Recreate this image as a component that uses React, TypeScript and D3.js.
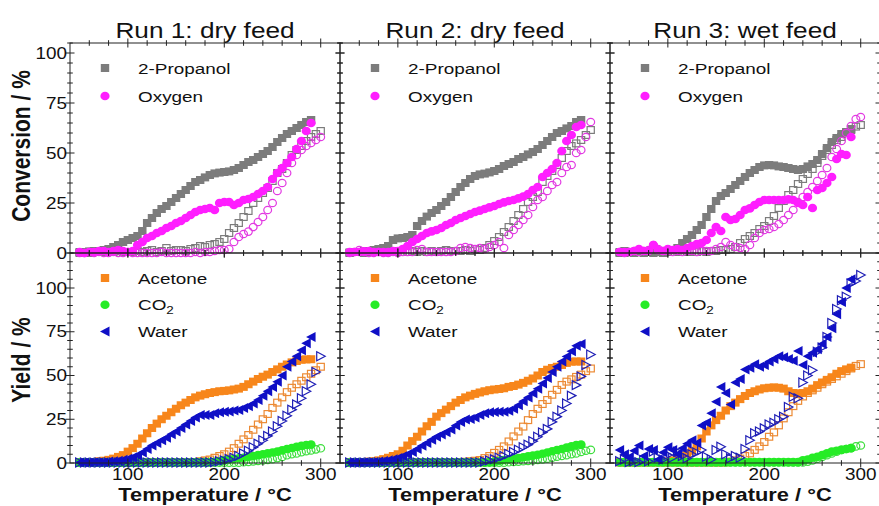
import React from 'react';
import * as d3 from 'd3';

// ---------- temperatures (°C) ----------
const T_UP = [50, 55, 60, 65, 70, 75, 80, 85, 90, 95,
  100, 105, 110, 115, 120, 125, 130, 135, 140, 145,
  150, 155, 160, 165, 170, 175, 180, 185, 190, 195,
  200, 205, 210, 215, 220, 225, 230, 235, 240, 245,
  250, 255, 260, 265, 270, 275, 280, 285, 290];
const T_DOWN = [50, 55, 60, 65, 70, 75, 80, 85, 90, 95,
  100, 105, 110, 115, 120, 125, 130, 135, 140, 145,
  150, 155, 160, 165, 170, 175, 180, 185, 190, 195,
  200, 205, 210, 215, 220, 225, 230, 235, 240, 245,
  250, 255, 260, 265, 270, 275, 280, 285, 290, 295,
  300];

// ---------- Run 1: conversion ----------
const r1PropanolUp = [0.5, 0.5, 0.8, 1, 1, 1.5, 2, 3, 4, 5.5,
  6.5, 7.5, 8.5, 11, 15, 17.5, 20, 22, 23.5, 25.5,
  27.5, 29.5, 31.5, 33.5, 35.5, 36.5, 37.8, 39, 39.8, 40.2,
  40.5, 40.8, 41.5, 42.5, 44, 45.5, 46.5, 48, 49.5, 51,
  53, 55.5, 57.5, 59.5, 61, 62.5, 64, 65.5, 66.5];
const r1PropanolDown = [0, 0.5, 0, 1, 1, 0.5, 1, 0.5, 1, 0.5,
  0.5, 0.5, 1, 0.5, 1, 1.5, 0.5, 1, 2.5, 1,
  1.5, 1.5, 1, 2, 2.5, 3.5, 3, 4, 4.5, 5.5,
  7, 10, 12.5, 15, 18, 21, 25, 27.5, 30, 32.5,
  36, 40, 42, 45, 49, 51.5, 53.5, 56, 58, 59.5,
  61];
const r1OxygenUp = [0.5, 0, 0.5, 0.5, 1, 1, 0.5, 1, 1.5, 1,
  0.5, 1, 4, 5.5, 7.5, 8.5, 10, 11, 12.5, 13.5,
  15, 16, 17.5, 19, 20.5, 21.5, 22, 22.5, 21.5, 25,
  25.5, 25.5, 24, 25, 26.5, 27, 28, 29.5, 31, 33,
  37, 40, 42.5, 45, 48, 52, 56, 61, 65];
const r1OxygenDown = [0, 0, 0.5, 0, 0.5, 0, 0, 0.5, 0, 0,
  0.5, 0, 0, 0, 0, 0, 0, 0.5, 0, 0,
  0, 0, 0, 0, 0.5, 0, 0.5, 0.5, 1, 1.5,
  1.5, 2, 5.5, 8, 9.5, 10.7, 13, 15.5, 18, 21.5,
  25, 31, 35, 40, 45, 49, 51.5, 53.5, 55, 56.5,
  58];

// ---------- Run 2: conversion ----------
const r2PropanolUp = [0.3, 0.5, 0.5, 1, 1, 1.5, 2, 2.5, 3.5, 6.5,
  7.3, 7.5, 8, 9, 13.5, 16, 18.2, 20, 21.5, 23.5,
  25.5, 28, 30.5, 33, 35, 37, 38.5, 39.3, 39.7, 40.3,
  41, 42, 43.5, 44.5, 45.5, 47, 48, 49.3, 50.5, 52,
  54, 56, 58, 60, 61, 62.3, 63.5, 65.5, 66.5];
const r2PropanolDown = [0, 0.5, 0.5, 0, 0.5, 0.5, 0.5, 0.5, 0.5, 1,
  0.5, 0.5, 0.5, 1, 0.5, 1, 0.5, 1, 0.5, 1,
  1.5, 1, 1, 1, 1.5, 1, 2, 1.5, 2.5, 4,
  6, 8, 10.5, 13, 16, 19, 22, 25.5, 28, 30.5,
  35.5, 38.5, 41, 44, 47.5, 51, 53.5, 54.8, 56.5, 59,
  61.5];
const r2OxygenUp = [0.5, 0.5, 0.5, 0.8, 1, 0.5, 0.5, 0.5, 0.5, 1,
  1, 2, 3.5, 5.5, 7, 8.5, 10, 10.8, 11.5, 12.5,
  14, 15, 16.5, 17.5, 18.5, 19.5, 20.5, 21.2, 22, 22.8,
  23.5, 24.5, 25.3, 26, 26.5, 27.3, 28.2, 29.5, 31.5, 33,
  38, 40, 42, 45, 51, 56, 59, 63, 64];
const r2OxygenDown = [0, 0.5, 1.5, 0.5, 0, 0, 0.5, 0, 0, 0.5,
  0, 0.5, 0.5, 0.5, 1.5, 2, 0.5, 0.5, 0.5, 0.5,
  0.5, 0.5, 1, 2.5, 3, 2.5, 2, 2.5, 2, 3,
  4, 5.5, 2.5, 9, 11.5, 14, 16.5, 19, 23, 26.5,
  28, 31, 34, 35.5, 40, 43, 44, 50, 51.5, 58,
  65.5];

// ---------- Run 3: conversion ----------
const r3PropanolUp = [0.5, 1, 0.5, 0.5, 0.5, 0.5, 0.5, 0.5, 0.5, 0.5,
  1, 1.5, 2.5, 5, 7, 9, 11.5, 14, 18, 22,
  26, 28.5, 30, 32, 34, 36, 38, 40, 41.5, 43,
  43.8, 44, 43.8, 43.3, 43, 42.5, 42, 41.5, 42, 43.3,
  44.5, 46.5, 49.5, 52.5, 55.5, 57.5, 59.5, 60.5, 62];
const r3PropanolDown = [0, 0, 0.5, 0, 0.5, 0, 0.5, 0, 0.5, 0,
  0.5, 0.5, 0.5, 0.5, 0.5, 0.5, 0.5, 1, 0.5, 1,
  1, 1.5, 1.5, 2, 3, 5, 7, 8.5, 10, 12,
  13.5, 16, 18.5, 22.5, 26, 29, 31.5, 34.5, 37, 39.5,
  42, 45, 48.5, 51.5, 54, 56.5, 58, 60, 61.5, 63.2,
  64];
const r3OxygenUp = [0.5, 0.5, 0.5, 1, 2, 1, 1, 4, 1.5, 1,
  2, 1.5, 2, 1.5, 2.5, 3.5, 4.5, 5, 6.5, 10,
  13, 11, 18, 16.5, 17, 19, 21.5, 22.3, 24, 25.5,
  26.5, 26.5, 26.5, 26.5, 26.5, 26.8, 26.5, 25, 24, 28,
  22.5, 31.5, 32.5, 35, 38, 47, 49.5, 49, 58];
const r3OxygenDown = [0.5, 0, 0.5, 1, 0.5, 1, 1.5, 4, 2, 1,
  1, 0.5, 1, 0.5, 1, 1, 0.5, 1, 1, 1,
  2, 3, 5.5, 4, 3, 2.5, 2, 4, 7.5, 10,
  11.5, 12, 13, 14.5, 16.5, 19, 21.5, 25.5, 28, 30.5,
  33, 36, 39, 42.5, 48, 52, 56, 60, 63.5, 67,
  68];

// ---------- Run 1: yield ----------
const r1AcetoneUp = [0.3, 0.3, 0.5, 0.5, 1, 1.3, 1.8, 2.5, 3.5, 4.5,
  6.5, 8.5, 11, 14, 17, 20, 22.5, 25, 27, 29,
  31, 33, 34.5, 36, 37.5, 38.5, 39.3, 40, 40.5, 41,
  41.2, 41.5, 42, 42.5, 43.5, 45, 46.5, 48, 49.3, 50.5,
  52, 53.5, 55, 56.3, 57.5, 58.3, 59, 59.2, 59.3];
const r1AcetoneDown = [0.2, 0.2, 0.3, 0.2, 0.3, 0.2, 0.3, 0.3, 0.2, 0.3,
  0.3, 0.3, 0.2, 0.3, 0.3, 0.3, 0.3, 0.3, 0.3, 0.3,
  0.3, 0.3, 0.3, 0.4, 0.5, 1, 1.5, 2, 3, 4,
  5, 6.5, 8.5, 11, 13.5, 16, 19, 22, 25, 28,
  31.5, 34.5, 37.5, 40.5, 43, 45, 47, 49, 51, 53,
  55];
const r1CO2Up = [0.2, 0.2, 0.2, 0.2, 0.2, 0.2, 0.2, 0.2, 0.2, 0.2,
  0.2, 0.2, 0.2, 0.2, 0.2, 0.3, 0.3, 0.3, 0.3, 0.3,
  0.3, 0.3, 0.3, 0.3, 0.4, 0.4, 0.5, 0.5, 0.7, 1,
  1.5, 2, 2.3, 2.7, 3, 3.5, 4, 4.5, 5, 5.5,
  6, 6.5, 7.2, 8, 8.6, 9.2, 9.8, 10.3, 10.5];
const r1CO2Down = [0.2, 0.2, 0.2, 0.2, 0.2, 0.2, 0.2, 0.2, 0.2, 0.2,
  0.2, 0.2, 0.2, 0.2, 0.2, 0.2, 0.2, 0.2, 0.2, 0.2,
  0.2, 0.2, 0.2, 0.2, 0.2, 0.2, 0.2, 0.2, 0.2, 0.2,
  0.2, 0.2, 0.2, 0.2, 0.4, 0.6, 0.9, 1.2, 1.5, 1.8,
  2.2, 2.8, 3.5, 4.4, 5, 5.5, 6.2, 6.7, 7.2, 7.8,
  8.4];
const r1WaterUp = [0.3, 0.3, 0.3, 0.5, 0.5, 0.5, 0.8, 1, 1.3, 1.8,
  2.5, 3.3, 4.5, 6, 8, 10, 11.5, 13, 14.5, 16.5,
  18, 20, 22, 24, 26, 27.5, 27.5, 27.5, 28.5, 29,
  29.3, 29.5, 30, 30.3, 31.5, 32.5, 34, 36, 38.5, 41,
  43.5, 46.5, 50, 55, 58, 61, 64.5, 68.5, 72];
const r1WaterDown = [0.3, 0.3, 0.3, 0.3, 0.3, 0.3, 0.3, 0.3, 0.3, 0.3,
  0.3, 0.3, 0.3, 0.3, 0.3, 0.3, 0.3, 0.3, 0.3, 0.3,
  0.3, 0.3, 0.3, 0.3, 0.3, 0.3, 0.3, 0.3, 0.5, 1,
  1.5, 2.3, 3, 4, 5.5, 7, 9, 11, 13, 15.5,
  18, 21, 24, 27, 30.5, 33.5, 37, 41, 45, 52,
  61];

// ---------- Run 2: yield ----------
const r2AcetoneUp = [0.3, 0.3, 0.5, 0.5, 0.8, 1, 1.5, 2.2, 3, 4,
  5, 7, 10, 12.5, 15, 18, 21, 23.5, 26.5, 28.5,
  30.5, 32.5, 34.5, 36, 37.5, 38.5, 39.5, 40.3, 41, 41.6,
  42, 42.3, 42.7, 43.5, 44, 44.8, 45.8, 47, 48.3, 50,
  52, 53.3, 54.3, 55, 56, 57.2, 57.9, 58, 58];
const r2AcetoneDown = [0.3, 0.3, 0.3, 0.3, 0.3, 0.3, 0.3, 0.3, 0.3, 0.3,
  0.3, 0.3, 0.3, 0.3, 0.3, 0.3, 0.3, 0.3, 0.3, 0.3,
  0.3, 0.3, 0.3, 0.5, 0.7, 1, 1.3, 1.7, 2.8, 4,
  5.8, 7.5, 9.5, 12.3, 15.2, 18, 20.8, 24.5, 28, 31,
  33.7, 36, 39, 41.8, 44.6, 46.5, 47.8, 49.2, 50.5, 52.5,
  54];
const r2CO2Up = [0.2, 0.2, 0.2, 0.2, 0.2, 0.2, 0.2, 0.2, 0.2, 0.2,
  0.2, 0.2, 0.2, 0.2, 0.2, 0.2, 0.2, 0.2, 0.2, 0.2,
  0.2, 0.2, 0.3, 0.3, 0.3, 0.3, 0.3, 0.3, 0.3, 0.5,
  0.8, 1.2, 1.7, 2.1, 2.5, 2.8, 3.3, 3.8, 4.2, 4.7,
  5.3, 6, 6.7, 7.4, 8, 8.8, 9.5, 10.3, 10.5];
const r2CO2Down = [0.2, 0.2, 0.2, 0.2, 0.2, 0.2, 0.2, 0.2, 0.2, 0.2,
  0.2, 0.2, 0.2, 0.2, 0.2, 0.2, 0.2, 0.2, 0.2, 0.2,
  0.2, 0.2, 0.2, 0.2, 0.2, 0.2, 0.2, 0.2, 0.2, 0.2,
  0.2, 0.2, 0.2, 0.4, 0.6, 0.8, 1, 1.2, 1.5, 1.8,
  2.1, 2.5, 3, 3.6, 4, 4.5, 5, 5.5, 6.3, 7,
  7.5];
const r2WaterUp = [0.3, 0.3, 0.3, 0.5, 0.5, 0.6, 0.8, 1.2, 1.6, 2.2,
  2.8, 3.8, 5, 6.3, 8, 9.8, 11.5, 13.3, 15, 16.3,
  17.6, 19.2, 21.5, 23.5, 24.8, 25.2, 26, 27.5, 28.5, 29,
  29.2, 29.3, 29.3, 29.8, 31, 33, 35.3, 37.5, 39.8, 42.5,
  45.5, 48.6, 52, 55, 58, 60.8, 63.8, 67, 68];
const r2WaterDown = [0.3, 0.3, 0.3, 0.3, 0.3, 0.3, 0.3, 0.3, 0.3, 0.3,
  0.3, 0.3, 0.3, 0.3, 0.3, 0.3, 0.3, 0.3, 0.3, 0.3,
  0.3, 0.3, 0.3, 0.3, 0.3, 0.3, 0.3, 0.3, 0.8, 1.5,
  2.2, 3, 4, 5.2, 6.3, 7.6, 9, 10.5, 12.5, 15,
  17.5, 19.5, 23.5, 26.5, 30, 34, 38.5, 44.5, 49.5, 56,
  62];

// ---------- Run 3: yield ----------
const r3AcetoneUp = [0.5, 0.5, 0.5, 0.5, 0.5, 0.5, 0.5, 0.5, 0.5, 0.5,
  1, 1.5, 2.5, 4, 5.5, 7, 9.5, 14, 18, 21.5,
  24.5, 27, 30, 32.5, 34.5, 36.5, 38.3, 40, 41, 42,
  42.7, 43, 43.2, 43, 42.5, 41, 40, 39.8, 40, 41,
  42.5, 44.5, 46, 47.5, 49, 51, 52.5, 53.5, 54.5];
const r3AcetoneDown = [0.3, 0.3, 0.3, 0.3, 0.3, 0.3, 0.3, 0.3, 0.3, 0.3,
  0.3, 0.3, 0.3, 0.3, 0.3, 0.3, 0.3, 0.3, 0.3, 0.3,
  0.3, 0.3, 0.3, 0.8, 1.5, 2.5, 4, 5.5, 7.5, 9.5,
  12, 15, 17.5, 21.5, 25.5, 29, 32.5, 35.5, 38, 40,
  41.5, 43, 45, 46.5, 48, 49.5, 51, 52.5, 54, 55.5,
  56.5];
const r3CO2Up = [0.5, 0.5, 0.5, 0.5, 0.5, 0.5, 0.5, 0.5, 0.5, 0.5,
  0.5, 0.5, 0.5, 0.5, 0.5, 0.5, 0.5, 0.5, 0.5, 0.5,
  0.5, 0.5, 0.5, 0.5, 0.5, 0.5, 0.5, 0.5, 0.5, 0.5,
  0.5, 0.5, 0.5, 0.5, 0.5, 0.5, 0.5, 0.5, 1.5, 2,
  3, 3.5, 4.5, 5.5, 6.5, 7, 7.5, 8, 8.5];
const r3CO2Down = [0.3, 0.3, 0.3, 0.3, 0.3, 0.3, 0.3, 0.3, 0.3, 0.3,
  0.3, 0.3, 0.3, 0.3, 0.3, 0.3, 0.3, 0.3, 0.3, 0.3,
  0.3, 0.3, 0.3, 0.3, 0.3, 0.3, 0.3, 0.3, 0.3, 0.3,
  0.3, 0.3, 0.3, 0.3, 0.3, 0.3, 0.3, 0.3, 0.3, 0.8,
  1.5, 2.5, 3.5, 4.5, 5.5, 6.5, 7.5, 8, 8.5, 9.5,
  10];
const r3WaterUp = [7.5, 5, 3.5, 7, 10, 4, 8, 7.5, 2, 6,
  9, 7.5, 5, 8.5, 11, 13, 11.5, 21.5, 23, 28.5,
  35, 43.5, 40, 33.5, 46, 48, 53.5, 54.5, 56.5, 55,
  56, 58, 59.5, 61, 60.5, 59.5, 58.5, 64, 56, 61,
  63, 65, 68, 72, 77, 85, 92, 100, 105];
const r3WaterDown = [1, 2, 0.5, 1, 0.5, 1.7, 1, 6.5, 3, 2,
  4.6, 3, 6.5, 4, 2.7, 5, 6, 7.4, 3.6, 2,
  7.4, 9.3, 5, 2.7, 4, 3, 8, 13, 17, 18,
  19.8, 22, 23, 25, 26.5, 32, 37.9, 37, 46, 50,
  53, 63.6, 66, 72, 80, 88, 93, 95, 102.6, 104,
  107.4];

// ---------- labels & ticks ----------
const RUN_TITLES = ['Run 1: dry feed', 'Run 2: dry feed', 'Run 3: wet feed'];
const X_MAJOR = [100, 200, 300];
const X_MINOR = [60, 80, 120, 140, 160, 180, 220, 240, 260, 280];
const Y_MAJOR = [0, 25, 50, 75, 100];

const CONV_SERIES = ['2-Propanol', 'Oxygen'];
const YIELD_SERIES = ['Acetone', 'CO2', 'Water'];

const RUN_DATA = [
  {
    conv: { '2-Propanol': [r1PropanolUp, r1PropanolDown], Oxygen: [r1OxygenUp, r1OxygenDown] },
    yld: { Acetone: [r1AcetoneUp, r1AcetoneDown], CO2: [r1CO2Up, r1CO2Down], Water: [r1WaterUp, r1WaterDown] },
  },
  {
    conv: { '2-Propanol': [r2PropanolUp, r2PropanolDown], Oxygen: [r2OxygenUp, r2OxygenDown] },
    yld: { Acetone: [r2AcetoneUp, r2AcetoneDown], CO2: [r2CO2Up, r2CO2Down], Water: [r2WaterUp, r2WaterDown] },
  },
  {
    conv: { '2-Propanol': [r3PropanolUp, r3PropanolDown], Oxygen: [r3OxygenUp, r3OxygenDown] },
    yld: { Acetone: [r3AcetoneUp, r3AcetoneDown], CO2: [r3CO2Up, r3CO2Down], Water: [r3WaterUp, r3WaterDown] },
  },
];

const STYLE: Record<string, { shape: string; fill: string; open: string }> = {
  '2-Propanol': { shape: 'square', fill: '#7c7c7c', open: '#7c7c7c' },
  Oxygen: { shape: 'circle', fill: '#ff1eff', open: '#e23ae2' },
  Acetone: { shape: 'square', fill: '#f7861b', open: '#ec8a34' },
  CO2: { shape: 'circle', fill: '#26ec26', open: '#3ede3e' },
  Water: { shape: 'tri', fill: '#0f0fc6', open: '#1f1fb6' },
};

const FONT = "'Liberation Sans', Arial, Helvetica, sans-serif";
const PANEL_LEFT = [70, 340, 610];
const PANEL_W = 270;
const TOP_Y = 43;
const MID_Y = 253;
const BOT_Y = 463;

function Marker({ shape, x, y, color, filled }: any) {
  if (shape === 'square') {
    return filled ? (
      <rect x={x - 4.2} y={y - 4} width={8.4} height={8} fill={color} />
    ) : (
      <rect x={x - 3.6} y={y - 3.4} width={7.2} height={6.8} fill="none" stroke={color} strokeWidth={1.2} />
    );
  }
  if (shape === 'circle') {
    return filled ? (
      <ellipse cx={x} cy={y} rx={4.6} ry={4.3} fill={color} />
    ) : (
      <ellipse cx={x} cy={y} rx={3.9} ry={3.7} fill="none" stroke={color} strokeWidth={1.2} />
    );
  }
  // triangles: filled point left, open point right
  if (filled) {
    return <path d={`M${x - 5},${y} L${x + 4.5},${y - 5} L${x + 4.5},${y + 5} Z`} fill={color} />;
  }
  return (
    <path d={`M${x + 4.5},${y} L${x - 4},${y - 4.5} L${x - 4},${y + 4.5} Z`} fill="none" stroke={color} strokeWidth={1.2} />
  );
}

function SText({ x, y, size, weight = 'normal', anchor = 'start', sx = 1.2, rotate = 0, children }: any) {
  return (
    <text
      transform={`translate(${x},${y}) scale(${sx},1)${rotate ? ` rotate(${rotate})` : ''}`}
      fontSize={size}
      fontWeight={weight}
      textAnchor={anchor}
      fontFamily={FONT}
      fill="#111"
    >
      {children}
    </text>
  );
}

function Ticks({ x0, x1, y0, y1, xScale, yScale, yMax }: any) {
  const lines: any[] = [];
  const maj = 4.5;
  const min = 2.8;
  const xt = [...X_MAJOR.map((v) => [v, maj]), ...X_MINOR.map((v) => [v, min])];
  xt.forEach(([v, l], i) => {
    const x = xScale(v);
    lines.push(<line key={`xb${i}`} x1={x} x2={x} y1={y1 - l} y2={y1 + l} />);
    lines.push(<line key={`xt${i}`} x1={x} x2={x} y1={y0 - l} y2={y0 + l} />);
  });
  const yMinor = d3.range(5, yMax + 0.1, 5).filter((v) => v % 25 !== 0);
  const yt = [...Y_MAJOR.map((v) => [v, maj]), ...yMinor.map((v) => [v, min])];
  yt.forEach(([v, l], i) => {
    const y = yScale(v);
    lines.push(<line key={`yl${i}`} x1={x0 - l} x2={x0 + l} y1={y} y2={y} />);
    lines.push(<line key={`yr${i}`} x1={x1 - l} x2={x1 + l} y1={y} y2={y} />);
  });
  return <g stroke="#222" strokeWidth={1}>{lines}</g>;
}

export default function App() {
  const yTop = d3.scaleLinear().domain([0, 105]).range([MID_Y, TOP_Y]);
  const yBot = d3.scaleLinear().domain([0, 120]).range([BOT_Y, MID_Y]);

  return (
    <svg
      width={879}
      height={506}
      viewBox="0 0 879 506"
      style={{ position: 'absolute', left: 0, top: 0, background: '#fff' }}
    >
      <rect x={0} y={0} width={879} height={506} fill="#fff" />
      {RUN_DATA.map((run, ri) => {
        const left = PANEL_LEFT[ri];
        const right = left + PANEL_W;
        const x = d3.scaleLinear().domain([40, 320]).range([left, right]);
        const cx = (left + right) / 2;
        const drawSeries = (names: string[], data: any, yS: any) =>
          names.map((name) => {
            const st = STYLE[name];
            const [up, down] = data[name];
            return (
              <g key={name}>
                {T_DOWN.map((t, i) => (
                  <Marker key={`d${i}`} shape={st.shape} x={x(t)} y={yS(down[i])} color={st.open} filled={false} />
                ))}
                {T_UP.map((t, i) => (
                  <Marker key={`u${i}`} shape={st.shape} x={x(t)} y={yS(up[i])} color={st.fill} filled={true} />
                ))}
              </g>
            );
          });
        return (
          <g key={ri}>
            <SText x={cx} y={38} size={21.5} anchor="middle" sx={1.22}>{RUN_TITLES[ri]}</SText>
            {drawSeries(CONV_SERIES, run.conv, yTop)}
            {drawSeries(['Acetone', 'CO2', 'Water'], run.yld, yBot)}
            <rect x={left} y={TOP_Y} width={PANEL_W} height={MID_Y - TOP_Y} fill="none" stroke="#222" strokeWidth={1} />
            <rect x={left} y={MID_Y} width={PANEL_W} height={BOT_Y - MID_Y} fill="none" stroke="#222" strokeWidth={1} />
            <Ticks x0={left} x1={right} y0={TOP_Y} y1={MID_Y} xScale={x} yScale={yTop} yMax={105} />
            <Ticks x0={left} x1={right} y0={MID_Y} y1={BOT_Y} xScale={x} yScale={yBot} yMax={120} />
            {CONV_SERIES.map((name, i) => {
              const ly = 68 + i * 28;
              return (
                <g key={name}>
                  <Marker shape={STYLE[name].shape} x={left + 35} y={ly} color={STYLE[name].fill} filled={true} />
                  <SText x={left + 68} y={ly + 5.5} size={15.5} sx={1.22}>{name}</SText>
                </g>
              );
            })}
            {YIELD_SERIES.map((name, i) => {
              const ly = 278 + i * 26.8;
              return (
                <g key={name}>
                  <Marker shape={STYLE[name].shape} x={left + 35} y={ly} color={STYLE[name].fill} filled={true} />
                  <SText x={left + 68} y={ly + 5.5} size={15.5} sx={1.22}>
                    {name === 'CO2' ? (
                      <>
                        CO<tspan fontSize={11} dy={4}>2</tspan>
                      </>
                    ) : (
                      name
                    )}
                  </SText>
                </g>
              );
            })}
            {X_MAJOR.map((v) => (
              <SText key={v} x={x(v)} y={480} size={16} anchor="middle" sx={1.18}>{v}</SText>
            ))}
            <SText x={cx} y={501} size={19} weight="bold" anchor="middle" sx={1.15}>Temperature / °C</SText>
          </g>
        );
      })}
      {Y_MAJOR.map((v) => (
        <SText key={`t${v}`} x={67} y={yTop(v) + 5.5} size={16} anchor="end" sx={1.18}>{v}</SText>
      ))}
      {Y_MAJOR.map((v) => (
        <SText key={`b${v}`} x={67} y={yBot(v) + 5.5} size={16} anchor="end" sx={1.18}>{v}</SText>
      ))}
      <SText x={30} y={146} size={21} weight="bold" anchor="middle" sx={1.2} rotate={-90}>Conversion / %</SText>
      <SText x={30} y={360} size={21} weight="bold" anchor="middle" sx={1.2} rotate={-90}>Yield / %</SText>
    </svg>
  );
}
